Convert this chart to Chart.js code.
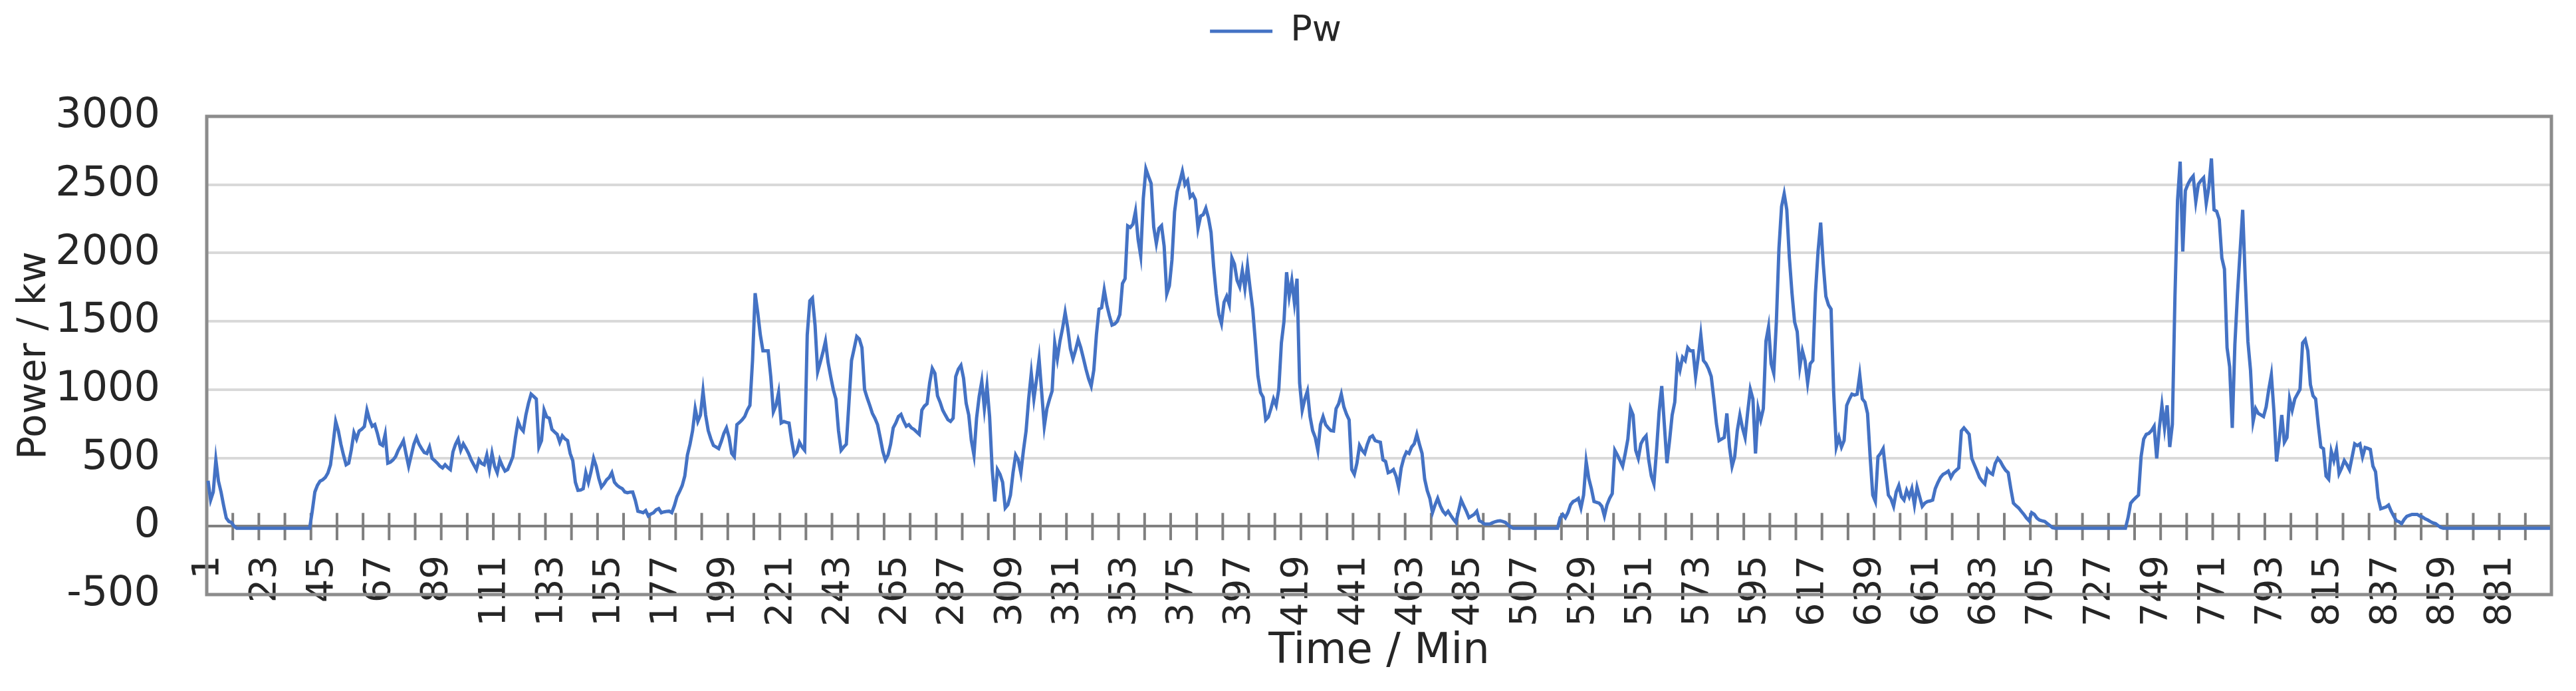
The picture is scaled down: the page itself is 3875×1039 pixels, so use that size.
<!DOCTYPE html>
<html>
<head>
<meta charset="utf-8">
<script src="https://cdn.jsdelivr.net/npm/chart.js@4/dist/chart.umd.min.js"></script>
<style>
  html, body { margin: 0; padding: 0; background: #fff; }
</style>
</head>
<body>
<canvas id="chart" width="3875" height="1039"></canvas>
<script>
// --- Data (one value per minute) ---
const pw = [
  333, 192, 251, 486, 330, 250, 150, 60, 35, 28,            // 1
  0, -15, -15, -15, -15, -15, -15, -15, -15, -15,           // 11
  -15, -15, -15, -15, -15, -15, -15, -15, -15, -15,         // 21
  -15, -15, -15, -15, -15, -15, -15, -15, -15, -15,         // 31
  110, 251, 300, 330, 340, 357, 390, 450, 603, 767,         // 41
  700, 600, 520, 450, 462, 560, 685, 638, 697, 710,         // 51
  730, 850, 780, 732, 744, 680, 603, 591, 673, 462,         // 61
  470, 486, 510, 556, 590, 627, 530, 439, 520, 600,         // 71
  650, 600, 568, 540, 533, 580, 497, 480, 462, 440,         // 81
  427, 450, 430, 415, 544, 600, 638, 556, 603, 570,         // 91
  533, 486, 450, 415, 486, 460, 450, 521, 415, 533,         // 101
  439, 392, 486, 440, 404, 415, 460, 509, 650, 767,         // 111
  720, 697, 814, 900, 967, 950, 932, 580, 627, 850,         // 121
  800, 791, 709, 690, 673, 615, 662, 640, 627, 533,         // 131
  480, 322, 263, 265, 275, 392, 322, 400, 497, 439,         // 141
  350, 286, 310, 340, 357, 392, 322, 300, 285, 275,         // 151
  251, 245, 250, 251, 190, 110, 105, 99, 115, 75,           // 161
  90, 99, 120, 129, 99, 105, 108, 110, 99, 150,             // 171
  216, 255, 298, 368, 521, 600, 700, 861, 767, 814,         // 181
  990, 814, 700, 640, 591, 580, 568, 620, 680, 720,         // 191
  650, 533, 509, 744, 760, 779, 803, 850, 885, 1213,        // 201
  1706, 1565, 1400, 1284, 1284, 1284, 1096, 838, 885, 979,  // 211
  756, 767, 760, 756, 627, 521, 544, 615, 580, 556,         // 221
  1400, 1650, 1671, 1472, 1131, 1200, 1272, 1354, 1200, 1096, // 231
  1000, 932, 700, 556, 580, 600, 900, 1213, 1300, 1389,     // 241
  1370, 1307, 1002, 940, 885, 826, 790, 744, 650, 550,      // 251
  486, 521, 600, 720, 756, 803, 819, 770, 732, 744,         // 261
  720, 709, 690, 673, 850, 880, 897, 1050, 1155, 1120,      // 271
  955, 908, 850, 814, 780, 767, 791, 1096, 1150, 1178,      // 281
  1084, 900, 814, 627, 521, 791, 950, 1061, 861, 1026,      // 291
  803, 415, 181, 415, 380, 322, 134, 157, 228, 392,         // 301
  521, 486, 392, 556, 697, 932, 1120, 932, 1073, 1225,      // 311
  979, 732, 861, 930, 990, 1342, 1225, 1354, 1448, 1565,    // 321
  1450, 1300, 1225, 1290, 1366, 1307, 1230, 1150, 1080, 1026, // 331
  1143, 1401, 1589, 1600, 1730, 1620, 1540, 1472, 1480, 1500, // 341
  1550, 1777, 1812, 2199, 2187, 2211, 2305, 2100, 1980, 2400, // 351
  2615, 2560, 2510, 2190, 2070, 2180, 2200, 2050, 1700, 1760, // 361
  1950, 2300, 2450, 2520, 2598, 2500, 2530, 2410, 2430, 2390, // 371
  2180, 2270, 2281, 2328, 2258, 2152, 1900, 1700, 1550, 1483, // 381
  1640, 1683, 1624, 1964, 1918, 1800, 1753, 1871, 1741, 1906, // 391
  1740, 1589, 1354, 1100, 979, 944, 779, 800, 861, 932,     // 401
  885, 1002, 1342, 1500, 1859, 1683, 1800, 1636, 1812, 1049, // 411
  850, 932, 990, 803, 700, 650, 556, 744, 803, 744,         // 421
  720, 700, 697, 861, 897, 967, 873, 820, 779, 415,         // 431
  380, 462, 591, 556, 533, 600, 650, 662, 627, 620,         // 441
  615, 486, 474, 392, 400, 415, 368, 286, 427, 500,         // 451
  544, 533, 580, 603, 673, 600, 533, 345, 260, 204,         // 461
  99, 157, 204, 150, 110, 87, 110, 80, 52, 28,              // 471
  110, 192, 150, 110, 63, 75, 87, 110, 40, 30,              // 481
  16, 16, 16, 25, 33, 38, 40, 35, 28, 10,                   // 491
  -5, -15, -15, -15, -15, -15, -15, -15, -15, -15,          // 501
  -15, -15, -15, -15, -15, -15, -15, -15, -15, 63,          // 511
  87, 63, 100, 157, 181, 190, 204, 134, 228, 474,           // 521
  350, 275, 181, 175, 169, 146, 75, 157, 204, 239,          // 531
  556, 521, 480, 439, 533, 638, 861, 814, 556, 497,         // 541
  603, 640, 662, 486, 368, 310, 556, 838, 1026, 744,        // 551
  462, 627, 814, 908, 1213, 1143, 1237, 1213, 1307, 1284,   // 561
  1284, 1096, 1237, 1401, 1213, 1190, 1150, 1096, 932, 750, // 571
  627, 638, 650, 826, 580, 439, 509, 700, 814, 720,         // 581
  650, 838, 1002, 932, 533, 861, 779, 861, 1354, 1460,      // 591
  1190, 1120, 1495, 2035, 2340, 2434, 2317, 1964, 1706, 1495, // 601
  1425, 1166, 1284, 1213, 1049, 1190, 1213, 1706, 2011, 2223, // 611
  1918, 1683, 1620, 1589, 979, 580, 650, 580, 627, 885,     // 621
  930, 967, 960, 967, 1108, 932, 908, 826, 509, 228,        // 631
  181, 509, 533, 568, 392, 228, 200, 146, 251, 298,         // 641
  216, 192, 263, 216, 275, 157, 286, 216, 146, 170,         // 651
  181, 185, 192, 275, 320, 357, 380, 390, 404, 357,         // 661
  392, 410, 427, 697, 720, 697, 673, 497, 450, 404,         // 671
  357, 330, 310, 415, 392, 380, 460, 497, 474, 439,         // 681
  410, 392, 275, 169, 150, 134, 110, 87, 60, 40,            // 691
  99, 87, 60, 45, 40, 35, 20, 5, -10, -15,                  // 701
  -15, -15, -15, -15, -15, -15, -15, -15, -15, -15,         // 711
  -15, -15, -15, -15, -15, -15, -15, -15, -15, -15,         // 721
  -15, -15, -15, -15, -15, -15, -15, 63, 169, 192,          // 731
  210, 228, 509, 638, 673, 680, 700, 732, 497, 720,         // 741
  885, 720, 885, 580, 744, 1683, 2387, 2669, 2011, 2457,    // 751
  2504, 2539, 2563, 2375, 2504, 2530, 2551, 2363, 2481, 2692, // 761
  2316, 2305, 2246, 1964, 1882, 1307, 1166, 720, 1331, 1700, // 771
  2011, 2316, 1800, 1354, 1143, 767, 861, 826, 815, 803,    // 781
  873, 1000, 1108, 838, 474, 627, 814, 615, 650, 932,       // 791
  850, 932, 967, 1002, 1342, 1366, 1284, 1037, 955, 932,    // 801
  744, 580, 568, 368, 345, 549, 481, 562, 386, 427,         // 811
  481, 450, 413, 508, 603, 590, 603, 508, 576, 570,         // 821
  562, 440, 399, 209, 128, 135, 141, 155, 110, 73,          // 831
  40, 33, 19, 50, 73, 80, 87, 87, 87, 75,                   // 841
  68, 55, 46, 35, 25, 19, 5, -8, -15, -15,                  // 851
  -15, -15, -15, -15, -15, -15, -15, -15, -15, -15,         // 861
  -15, -15, -15, -15, -15, -15, -15, -15, -15, -15,         // 871
  -15, -15, -15, -15, -15, -15, -15, -15, -15, -15,         // 881
  -15, -15, -15, -15, -15, -15, -15, -15, -15, -15          // 891
];

// minute numbers on the category axis
const minutes = pw.map((_, i) => String(i + 1));

// labels that are actually printed under the axis
const shownLabels = ['1', '23', '45', '67', '89', '111', '133', '155', '177', '199',
  '221', '243', '265', '287', '309', '331', '353', '375', '397', '419', '441', '463',
  '485', '507', '529', '551', '573', '595', '617', '639', '661', '683', '705', '727',
  '749', '771', '793', '815', '837', '859', '881'];

const yTicks = [-500, 0, 500, 1000, 1500, 2000, 2500, 3000];

// --- Styling ---
const FAMILY = '"DejaVu Sans", sans-serif';
const TICK_FONT = { family: FAMILY, size: 62 };
const XTICK_FONT = { family: FAMILY, size: 56 };
const YTITLE_FONT = { family: FAMILY, size: 58 };
const XTITLE_FONT = { family: FAMILY, size: 64 };
const LEGEND_FONT = { family: FAMILY, size: 54 };
const TEXT = '#262626';
const LINE_BLUE = '#4472C4';

// plot frame plus the cross tick marks that sit on the zero line
const frameAndTicks = {
  id: 'frameAndTicks',
  beforeDatasetsDraw(chart) {
    const { ctx, chartArea: a, scales: { x, y } } = chart;
    const y0 = y.getPixelForValue(0);
    ctx.save();
    ctx.strokeStyle = '#7f7f7f';
    ctx.lineWidth = 4;
    ctx.beginPath();
    for (let i = 10; i < pw.length; i += 10) {
      const px = x.getPixelForValue(i - 0.5);
      ctx.moveTo(px, y0 - 20);
      ctx.lineTo(px, y0 + 21);
    }
    ctx.stroke();
    ctx.strokeStyle = '#8c8c8c';
    ctx.lineWidth = 5;
    ctx.strokeRect(a.left, a.top, a.right - a.left, a.bottom - a.top);
    ctx.restore();
  }
};

new Chart(document.getElementById('chart'), {
  type: 'line',
  data: {
    labels: minutes,
    datasets: [{
      label: 'Pw',
      data: pw,
      borderColor: LINE_BLUE,
      backgroundColor: LINE_BLUE,
      borderWidth: 5,
      pointRadius: 0,
      tension: 0,
      fill: false
    }]
  },
  options: {
    responsive: false,
    animation: false,
    devicePixelRatio: 1,
    events: [],
    layout: { padding: { top: 0, right: 37, bottom: 0, left: 0 } },
    plugins: {
      legend: {
        position: 'top',
        weight: 3000,
        labels: {
          usePointStyle: true,
          pointStyle: 'line',
          pointStyleWidth: 94,
          padding: 20,
          color: TEXT,
          font: LEGEND_FONT
        }
      },
      // empty title used only as a spacer between legend and plot
      title: { display: true, text: '', padding: { top: 0, bottom: 79 }, font: { size: 10 } },
      tooltip: { enabled: false }
    },
    scales: {
      x: {
        type: 'category',
        offset: true,
        grid: { display: false, drawTicks: false },
        border: { display: false },
        ticks: {
          autoSkip: false,
          minRotation: 90,
          maxRotation: 90,
          padding: -59,
          color: TEXT,
          font: XTICK_FONT,
          callback: (val, i) => (shownLabels.includes(minutes[i]) ? minutes[i] : '')
        },
        title: { display: true, text: 'Time / Min', color: TEXT, font: XTITLE_FONT, padding: { top: 0, bottom: 20 } },
        afterFit: (s) => {
          s.height = 145;
          // labels start above the plot bottom, so don't clip them to the axis box
          s._computeLabelArea = () => null;
        }
      },
      y: {
        min: -500,
        max: 3000,
        afterBuildTicks: (s) => { s.ticks = yTicks.map(v => ({ value: v })); },
        grid: {
          drawTicks: false,
          lineWidth: 4,
          color: (c) => (c.tick && c.tick.value === 0 ? '#808080' : '#d9d9d9')
        },
        border: { display: false },
        ticks: { padding: 70, color: TEXT, font: TICK_FONT, callback: (v) => String(v) },
        title: { display: true, text: 'Power / kw', color: TEXT, font: YTITLE_FONT, padding: { top: 18, bottom: 0 } },
        afterFit: (s) => { s.width = 311; }
      }
    }
  },
  plugins: [frameAndTicks]
});
</script>
</body>
</html>
